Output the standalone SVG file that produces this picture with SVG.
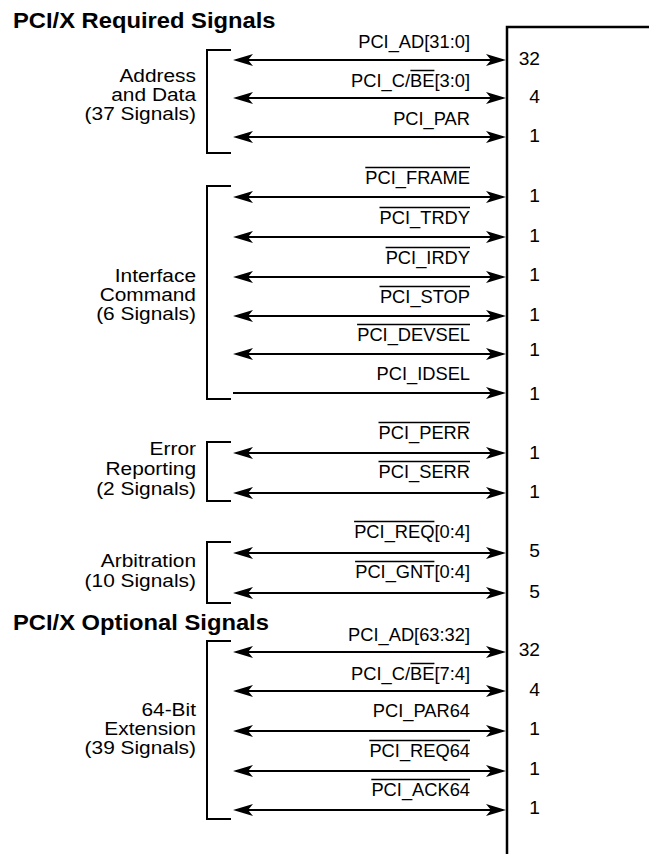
<svg xmlns="http://www.w3.org/2000/svg" width="649" height="854" viewBox="0 0 649 854">
<style>
text{font-family:"Liberation Sans",Arial,Helvetica,sans-serif;fill:#000}
.t{font-size:21.5px;font-weight:bold}
.s{font-size:18.3px;text-anchor:end}
.g{font-size:18.5px;text-anchor:end}
.n{font-size:18.3px;text-anchor:end}
.w{stroke:#000;stroke-width:2;fill:none}
.ov{stroke:#000;stroke-width:1.5}
.bi{marker-start:url(#ah);marker-end:url(#ah)}
.uni{marker-end:url(#ah)}
</style>
<defs>
<marker id="ah" markerUnits="userSpaceOnUse" viewBox="-18 -7 22 14" markerWidth="22" markerHeight="14" refX="0" refY="0" orient="auto-start-reverse">
<path d="M-17,-6 L3,0 L-17,6 L-12,0 Z" fill="#000"/>
</marker>
</defs>

<g id="block">
<path d="M649,27 H507 V854" stroke="#000" stroke-width="2.5" fill="none"/>
</g>

<g id="titles">
<text class="t" transform="translate(13 28) scale(1.105 1)">PCI/X Required Signals</text>
<text class="t" transform="translate(13 630) scale(1.105 1)">PCI/X Optional Signals</text>
</g>

<g id="group-address">
<path class="w" d="M231,50 H207 V153 H231"/>
<text class="g" transform="translate(196 82) scale(1.13 1)">Address</text>
<text class="g" transform="translate(196 101) scale(1.13 1)">and Data</text>
<text class="g" transform="translate(196 120) scale(1.13 1)">(37 Signals)</text>
</g>
<g id="group-interface">
<path class="w" d="M231,186 H207 V399 H231"/>
<text class="g" transform="translate(196 282) scale(1.13 1)">Interface</text>
<text class="g" transform="translate(196 301) scale(1.13 1)">Command</text>
<text class="g" transform="translate(196 320) scale(1.13 1)">(6 Signals)</text>
</g>
<g id="group-error">
<path class="w" d="M231,442 H207 V501 H231"/>
<text class="g" transform="translate(196 455) scale(1.13 1)">Error</text>
<text class="g" transform="translate(196 475) scale(1.13 1)">Reporting</text>
<text class="g" transform="translate(196 495) scale(1.13 1)">(2 Signals)</text>
</g>
<g id="group-arbitration">
<path class="w" d="M231,542 H207 V603 H231"/>
<text class="g" transform="translate(196 567) scale(1.13 1)">Arbitration</text>
<text class="g" transform="translate(196 587) scale(1.13 1)">(10 Signals)</text>
</g>
<g id="group-64bit">
<path class="w" d="M231,641 H207 V819 H231"/>
<text class="g" transform="translate(196 716) scale(1.13 1)">64-Bit</text>
<text class="g" transform="translate(196 735) scale(1.13 1)">Extension</text>
<text class="g" transform="translate(196 754) scale(1.13 1)">(39 Signals)</text>
</g>

<g id="connectors">
<line class="w bi" x1="236" y1="60" x2="503" y2="60"/>
<line class="w bi" x1="236" y1="98" x2="503" y2="98"/>
<line class="w bi" x1="236" y1="137" x2="503" y2="137"/>
<line class="w bi" x1="236" y1="197" x2="503" y2="197"/>
<line class="w bi" x1="236" y1="237" x2="503" y2="237"/>
<line class="w bi" x1="236" y1="277" x2="503" y2="277"/>
<line class="w bi" x1="236" y1="316" x2="503" y2="316"/>
<line class="w bi" x1="236" y1="354" x2="503" y2="354"/>
<line class="w uni" x1="233" y1="393" x2="503" y2="393"/>
<line class="w bi" x1="236" y1="453" x2="503" y2="453"/>
<line class="w bi" x1="236" y1="493" x2="503" y2="493"/>
<line class="w bi" x1="236" y1="553" x2="503" y2="553"/>
<line class="w bi" x1="236" y1="593" x2="503" y2="593"/>
<line class="w bi" x1="236" y1="652" x2="503" y2="652"/>
<line class="w bi" x1="236" y1="691" x2="503" y2="691"/>
<line class="w bi" x1="236" y1="731" x2="503" y2="731"/>
<line class="w bi" x1="236" y1="771" x2="503" y2="771"/>
<line class="w bi" x1="236" y1="810" x2="503" y2="810"/>
</g>

<g id="signal-labels">
<text class="s" transform="translate(470 48)">PCI_AD[31:0]</text>
<text class="s" transform="translate(470 87)">PCI_C/BE[3:0]</text>
<line class="ov" x1="410.4" y1="70.5" x2="434.4" y2="70.5"/>
<text class="s" transform="translate(470 125)">PCI_PAR</text>
<text class="s" transform="translate(470 184)">PCI_FRAME</text>
<line class="ov" x1="365.3" y1="167.5" x2="470" y2="167.5"/>
<text class="s" transform="translate(470 224)">PCI_TRDY</text>
<line class="ov" x1="379.5" y1="207.5" x2="470" y2="207.5"/>
<text class="s" transform="translate(470 264)">PCI_IRDY</text>
<line class="ov" x1="385.6" y1="247.5" x2="470" y2="247.5"/>
<text class="s" transform="translate(470 303)">PCI_STOP</text>
<line class="ov" x1="379.5" y1="286.5" x2="470" y2="286.5"/>
<text class="s" transform="translate(470 341)">PCI_DEVSEL</text>
<line class="ov" x1="357.1" y1="324.5" x2="470" y2="324.5"/>
<text class="s" transform="translate(470 380)">PCI_IDSEL</text>
<text class="s" transform="translate(470 439)">PCI_PERR</text>
<line class="ov" x1="378.5" y1="422.5" x2="470" y2="422.5"/>
<text class="s" transform="translate(470 478)">PCI_SERR</text>
<line class="ov" x1="378.5" y1="461.5" x2="470" y2="461.5"/>
<text class="s" transform="translate(470 538)">PCI_REQ[0:4]</text>
<line class="ov" x1="354.1" y1="521.5" x2="434.4" y2="521.5"/>
<text class="s" transform="translate(470 578)">PCI_GNT[0:4]</text>
<line class="ov" x1="355.1" y1="561.5" x2="434.4" y2="561.5"/>
<text class="s" transform="translate(470 641)">PCI_AD[63:32]</text>
<text class="s" transform="translate(470 680)">PCI_C/BE[7:4]</text>
<line class="ov" x1="410.4" y1="663.5" x2="434.4" y2="663.5"/>
<text class="s" transform="translate(470 717)">PCI_PAR64</text>
<text class="s" transform="translate(470 757)">PCI_REQ64</text>
<line class="ov" x1="369.3" y1="740.5" x2="470" y2="740.5"/>
<text class="s" transform="translate(470 796)">PCI_ACK64</text>
<line class="ov" x1="371.3" y1="779.5" x2="470" y2="779.5"/>
</g>

<g id="widths">
<text class="n" transform="translate(540 65) scale(1.05 1)">32</text>
<text class="n" transform="translate(540 103) scale(1.05 1)">4</text>
<text class="n" transform="translate(540 142) scale(1.05 1)">1</text>
<text class="n" transform="translate(540 202) scale(1.05 1)">1</text>
<text class="n" transform="translate(540 242) scale(1.05 1)">1</text>
<text class="n" transform="translate(540 281) scale(1.05 1)">1</text>
<text class="n" transform="translate(540 321) scale(1.05 1)">1</text>
<text class="n" transform="translate(540 356) scale(1.05 1)">1</text>
<text class="n" transform="translate(540 400) scale(1.05 1)">1</text>
<text class="n" transform="translate(540 459) scale(1.05 1)">1</text>
<text class="n" transform="translate(540 498) scale(1.05 1)">1</text>
<text class="n" transform="translate(540 557) scale(1.05 1)">5</text>
<text class="n" transform="translate(540 598) scale(1.05 1)">5</text>
<text class="n" transform="translate(540 656) scale(1.05 1)">32</text>
<text class="n" transform="translate(540 696) scale(1.05 1)">4</text>
<text class="n" transform="translate(540 735) scale(1.05 1)">1</text>
<text class="n" transform="translate(540 775) scale(1.05 1)">1</text>
<text class="n" transform="translate(540 814) scale(1.05 1)">1</text>
</g>
</svg>
